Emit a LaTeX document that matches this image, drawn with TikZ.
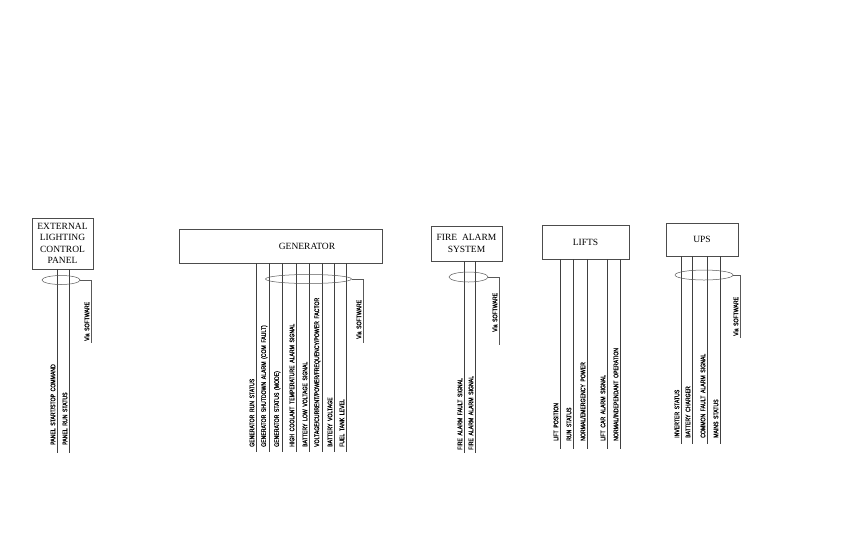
\documentclass[tikz,border=0pt]{standalone}
\usepackage{fontspec}
\setmainfont{Liberation Serif}
\newfontfamily\siglbl[FakeStretch=0.78,FakeBold=1,WordSpace=1.8]{Liberation Sans}
\usepackage{tikz}
\usetikzlibrary{positioning,shapes.geometric}

\begin{document}
\begin{tikzpicture}[x=1pt,y=-1pt,
  blockbox/.style={rectangle,draw=black!70,line width=0.6pt,inner sep=0pt,
    align=center,font=\fontsize{9.5}{11.5}\selectfont},
  sigline/.style={draw=black!75,line width=0.5pt},
  siglabel/.style={rotate=90,anchor=south west,inner sep=0pt,
    font=\siglbl\fontsize{6.6}{6.6}\selectfont},
  bundle/.style={ellipse,draw=black!65,line width=0.5pt,inner sep=0pt},
  viawire/.style={draw=black!65,line width=0.5pt}]
\useasboundingbox (0,0) rectangle (865,547);
% equipment boxes
\node[blockbox,minimum width=61,minimum height=51] (elcp) at (62.5,243.5)
  {EXTERNAL\\LIGHTING\\CONTROL\\PANEL};
\node[blockbox,minimum width=203,minimum height=34] (gen) at (280.5,246)
  {\hspace*{53pt}GENERATOR};
\node[blockbox,minimum width=71,minimum height=35] (fire) at (466.5,243.5)
  {FIRE\ \ ALARM\\SYSTEM};
\node[blockbox,minimum width=87,minimum height=34] (lifts) at (585.5,242)
  {LIFTS};
\node[blockbox,minimum width=72,minimum height=33] (ups) at (702,239.5)
  {UPS};
% signal lines
\foreach \x/\txt in {57/{PANEL START/STOP COMMAND},69/{PANEL RUN STATUS}}{
  \coordinate (elcp\x) at (\x,453);
  \draw[sigline] (elcp.south -| elcp\x) -- (elcp\x);
  \node[siglabel] at (\x-1.5,445) {\txt};
}
\foreach \x/\txt in {256/{GENERATOR RUN STATUS},
    269/{GENERATOR SHUTDOWN ALARM (COM FAULT)},
    282/{GENERATOR STATUS (MODE)},
    296/{HIGH COOLANT TEMPERATURE ALARM SIGNAL},
    309/{BATTERY LOW VOLTAGE SIGNAL},
    322/{VOLTAGE/CURRENT/POWER/FREQUENCY/POWER FACTOR},
    334/{BATTERY VOLTAGE},346/{FUEL TANK LEVEL}}{
  \coordinate (gen\x) at (\x,452);
  \draw[sigline] (gen.south -| gen\x) -- (gen\x);
  \node[siglabel] at (\x-1.5,447) {\txt};
}
\foreach \x/\txt in {464/{FIRE ALARM FAULT SIGNAL},475/{FIRE ALARM ALARM SIGNAL}}{
  \coordinate (fire\x) at (\x,453);
  \draw[sigline] (fire.south -| fire\x) -- (fire\x);
  \node[siglabel] at (\x-1.5,450) {\txt};
}
\foreach \x/\txt in {560/{LIFT POSITION},573/{RUN STATUS},
    587/{NORMAL/EMERGENCY POWER},607/{LIFT CAR ALARM SIGNAL},
    620/{NORMAL/INDEPENDANT OPERATION}}{
  \coordinate (lifts\x) at (\x,449);
  \draw[sigline] (lifts.south -| lifts\x) -- (lifts\x);
  \node[siglabel] at (\x-1.5,441) {\txt};
}
\foreach \x/\txt in {681/{INVERTER STATUS},692/{BATTERY CHARGER},
    707/{COMMON FAULT ALARM SIGNAL},720/{MAINS STATUS}}{
  \coordinate (ups\x) at (\x,444);
  \draw[sigline] (ups.south -| ups\x) -- (ups\x);
  \node[siglabel] at (\x-1.5,438) {\txt};
}
% bundles via software
\node[bundle,minimum width=38,minimum height=9] (elcpbus) at (61,280) {};
\coordinate (elcpsw) at (91,343);
\draw[viawire] (elcpbus.east) -| (elcpsw);
\node[siglabel] at (89.5,341) {Via SOFTWARE};
\node[bundle,minimum width=86,minimum height=9] (genbus) at (308.5,279) {};
\coordinate (gensw) at (363,343);
\draw[viawire] (genbus.east) -| (gensw);
\node[siglabel] at (361.5,339) {Via SOFTWARE};
\node[bundle,minimum width=39,minimum height=10] (firebus) at (468.5,277) {};
\coordinate (firesw) at (499,345);
\draw[viawire] (firebus.east) -| (firesw);
\node[siglabel] at (497.5,332) {Via SOFTWARE};
\node[bundle,minimum width=58,minimum height=10] (upsbus) at (704,275) {};
\coordinate (upssw) at (740,338);
\draw[viawire] (upsbus.east) -| (upssw);
\node[siglabel] at (738.5,336) {Via SOFTWARE};
\end{tikzpicture}
\end{document}
